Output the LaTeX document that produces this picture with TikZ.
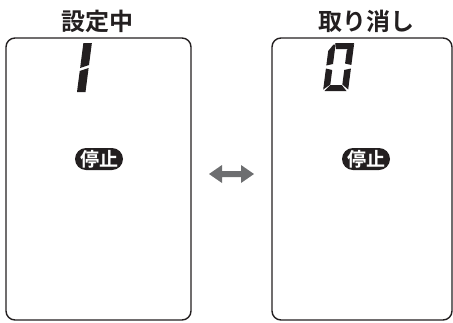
\documentclass[tikz,border=0pt]{standalone}
\usepackage{fontspec}
\usetikzlibrary{positioning}
\newfontfamily\jpfont{Noto Sans CJK JP Bold}
\newfontfamily\jpboldfont{Noto Sans CJK JP Bold}
\definecolor{ink}{HTML}{231F20}
\definecolor{arrowgray}{HTML}{6D6E70}

\begin{document}
\begin{tikzpicture}[
    x=1pt, y=-1pt,
    panel/.style={draw=ink, line width=1.4pt, rounded corners=9pt, inner sep=0pt, minimum width=#1, minimum height=282pt},
    title/.style={font=\jpfont\fontsize{24}{28}\selectfont, text=ink, inner sep=0pt},
    badge/.style={fill=ink, text=white, rounded corners=11pt, minimum width=48pt, minimum height=22pt, inner sep=0pt, font=\jpboldfont\fontsize{19}{22}\selectfont},
    seg/.style={fill=ink},
    dblarr/.style={fill=arrowgray},
]
\useasboundingbox (0,0) rectangle (453,322);

% Panels
\node[panel=185pt] (setBox) at (98.5,179) {};
\node[panel=180pt] (cancelBox) at (362,179) {};

% Titles
\node[title] (setTitle) at (97,21) {設定中};
\node[title] (cancelTitle) at (366,21) {取り消し};

% Digit 1
\begin{scope}[shift={(77,92)}, xslant=0.13]
  \fill[seg] (0,-49) -- (8.5,-49) -- (8.5,-27) -- (0,-24) -- cycle;
  \fill[seg] (0,-21) -- (8.5,-24) -- (8.5,0) -- (0,0) -- cycle;
\end{scope}

% Digit 0
\begin{scope}[shift={(323,91)}, xslant=0.13]
  \fill[seg] (6,-48) -- (25,-48) -- (23,-42) -- (7.5,-42) -- cycle;
  \fill[seg] (0,-40) -- (4.5,-46.5) -- (6.5,-46.5) -- (6.5,-27) -- (0,-25.5) -- cycle;
  \fill[seg] (18.5,-41) -- (25,-47) -- (25,-26) -- (18.5,-27.5) -- cycle;
  \fill[seg] (0,-22.5) -- (6.5,-21) -- (6.5,-6.5) -- (0,-1.5) -- cycle;
  \fill[seg] (18.5,-21) -- (25,-22.5) -- (25,-1.5) -- (18.5,-6.5) -- cycle;
  \fill[seg] (1.5,0) -- (6.5,-6) -- (18,-6) -- (23.5,0) -- cycle;
\end{scope}

% Stop badges
\node[badge] (setStop) at (99,159) {停止};
\node[badge] (cancelStop) at (366,159) {停止};

% Toggle arrow
\coordinate (arrL) at (209,174);
\coordinate (arrR) at (254,174);
\fill[dblarr] (arrL) -- ++(13,-9) -- ++(0,6) -- ++(19,0) -- ++(0,-6) -- (arrR)
  -- ++(-13,9) -- ++(0,-6) -- ++(-19,0) -- ++(0,6) -- cycle;
\end{tikzpicture}
\end{document}
